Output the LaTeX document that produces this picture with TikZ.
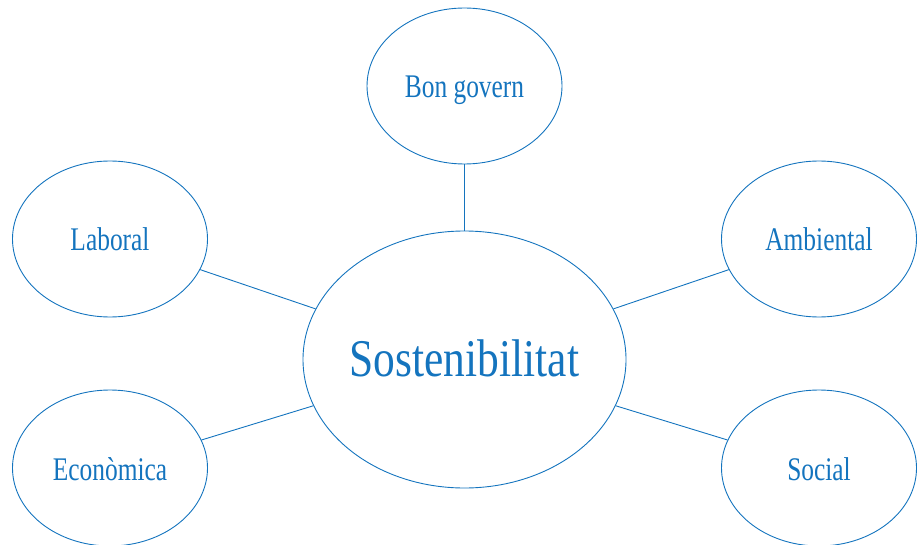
\documentclass[tikz,border=0pt]{standalone}
\usepackage{fontspec}
\setmainfont{Liberation Serif}[FakeStretch=0.77]
\newfontfamily\bigfont{Liberation Serif}[FakeStretch=0.82]
\usetikzlibrary{shapes.geometric}
\definecolor{sblue}{RGB}{20,116,190}
\tikzset{
  topic/.style={ellipse, draw=sblue, line width=0.9pt, text=sblue, inner sep=0pt,
    minimum width=195pt, minimum height=156pt, text height=26pt, text depth=2pt,
    font=\fontsize{33}{36}\selectfont},
  core/.style={ellipse, draw=sblue, line width=0.9pt, text=sblue, inner sep=0pt,
    minimum width=323pt, minimum height=257pt, text height=36pt, text depth=2pt,
    font=\bigfont\fontsize{53}{58}\selectfont},
  link/.style={draw=sblue, line width=0.9pt}
}
\begin{document}
\begin{tikzpicture}[x=1pt,y=-1pt]
\useasboundingbox (0,0) rectangle (917,545);
\node[core] (c) at (464.5,359.5) {\makebox[0pt]{Sostenibilitat}};
\node[topic] (t) at (464.5,86) {Bon govern};
\node[topic] (l) at (110,239) {Laboral};
\node[topic] (a) at (819,239) {Ambiental};
\node[topic] (e) at (110,468) {Econòmica};
\node[topic] (s) at (819,468) {Social};
\draw[link] (t) -- (c);
\draw[link] (l) -- (c);
\draw[link] (a) -- (c);
\draw[link] (e) -- (c);
\draw[link] (s) -- (c);
\end{tikzpicture}
\end{document}
